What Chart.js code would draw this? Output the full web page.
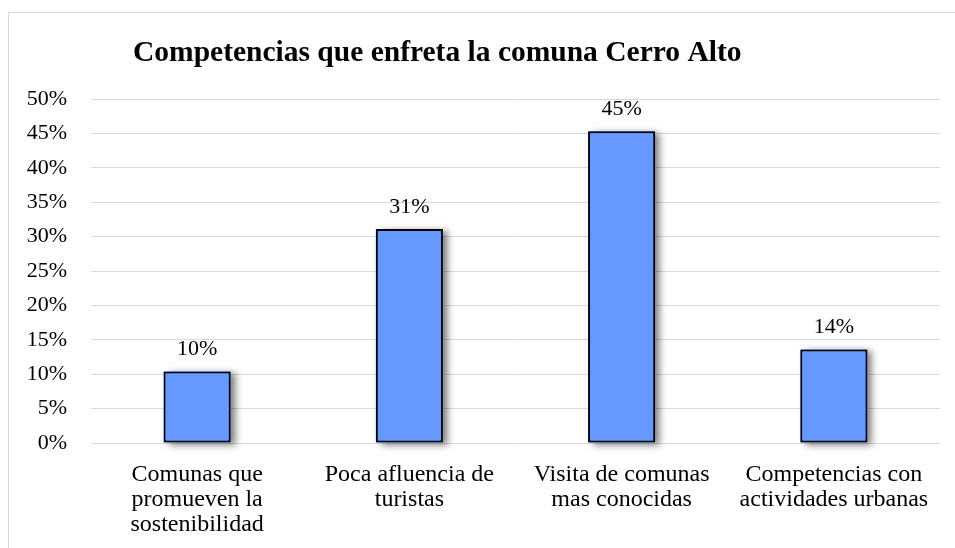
<!DOCTYPE html>
<html>
<head>
<meta charset="utf-8">
<title>Competencias que enfreta la comuna Cerro Alto</title>
<script src="https://cdn.jsdelivr.net/npm/chart.js@4.4.1/dist/chart.umd.min.js"></script>
<style>
    html, body { margin: 0; padding: 0; background: #fff; overflow: hidden; }
    #chart { display: block; }
</style>
</head>
<body>
<canvas id="chart" width="955" height="548"></canvas>
<script>
// Chart data
const chartTitle = 'Competencias que enfreta la comuna Cerro Alto';
const categories = [
    ['Comunas que', 'promueven la', 'sostenibilidad'],
    ['Poca afluencia de', 'turistas'],
    ['Visita de comunas', 'mas conocidas'],
    ['Competencias con', 'actividades urbanas']
];
const percentValues = [10.4, 31.1, 45.3, 13.6];
const yTicks = [0, 5, 10, 15, 20, 25, 30, 35, 40, 45, 50];

const FONT = '"Liberation Serif", "Times New Roman", serif';

// Frame + title, drawn before the chart
const framePlugin = {
    id: 'frame',
    beforeDraw(chart) {
        const ctx = chart.ctx;
        ctx.save();
        ctx.fillStyle = '#fff';
        ctx.fillRect(0, 0, chart.width, chart.height);
        ctx.strokeStyle = '#d9d9d9';
        ctx.lineWidth = 1;
        ctx.strokeRect(8.5, 12.5, 1200, 1200);
        ctx.fillStyle = '#000';
        ctx.font = 'bold 29.5px ' + FONT;
        ctx.textAlign = 'left';
        ctx.textBaseline = 'alphabetic';
        ctx.fillText(chartTitle, 133, 61);
        ctx.restore();
    }
};

// Soft shadow behind bars (bar element clips its own shadow) + value labels
const barDecorPlugin = {
    id: 'barDecor',
    beforeDatasetsDraw(chart) {
        const ctx = chart.ctx;
        const meta = chart.getDatasetMeta(0);
        ctx.save();
        ctx.shadowColor = 'rgba(0, 0, 0, 0.5)';
        ctx.shadowBlur = 7;
        ctx.shadowOffsetX = 5;
        ctx.shadowOffsetY = 2;
        ctx.fillStyle = '#6699ff';
        meta.data.forEach(bar => {
            const w = bar.width;
            ctx.fillRect(bar.x - w / 2, bar.y, w, bar.base - bar.y);
        });
        ctx.restore();
    },
    afterDatasetsDraw(chart) {
        const ctx = chart.ctx;
        const meta = chart.getDatasetMeta(0);
        ctx.save();
        ctx.fillStyle = '#000';
        ctx.font = '22px ' + FONT;
        ctx.textAlign = 'center';
        ctx.textBaseline = 'alphabetic';
        meta.data.forEach((bar, i) => {
            ctx.fillText(Math.round(percentValues[i]) + '%', bar.x, bar.y - 16);
        });
        ctx.restore();
    }
};

new Chart(document.getElementById('chart'), {
    type: 'bar',
    data: {
        labels: categories,
        datasets: [{
            data: percentValues,
            backgroundColor: '#6699ff',
            borderColor: '#000',
            borderWidth: 2,
            borderSkipped: false,
            barPercentage: 0.316,
            categoryPercentage: 1
        }]
    },
    options: {
        responsive: false,
        animation: false,
        layout: {
            padding: { top: 99, right: 15, bottom: 0, left: 0 }
        },
        plugins: {
            legend: { display: false },
            tooltip: { enabled: false },
            title: { display: false }
        },
        scales: {
            x: {
                grid: { display: false, drawTicks: false },
                border: { display: false },
                ticks: {
                    color: '#000',
                    padding: 19,
                    maxRotation: 0,
                    autoSkip: false,
                    font: { family: FONT, size: 24, lineHeight: '25px' }
                },
                afterFit(scale) {
                    scale.height = 105;
                }
            },
            y: {
                min: 0,
                max: 50,
                afterBuildTicks(scale) {
                    scale.ticks = yTicks.map(v => ({ value: v }));
                },
                grid: { color: '#d9d9d9', lineWidth: 1, drawTicks: false },
                border: { display: false },
                ticks: {
                    color: '#000',
                    padding: 24,
                    font: { family: FONT, size: 22 },
                    callback: v => v + '%'
                },
                afterFit(scale) {
                    scale.width = 91;
                }
            }
        }
    },
    plugins: [framePlugin, barDecorPlugin]
});
</script>
</body>
</html>
